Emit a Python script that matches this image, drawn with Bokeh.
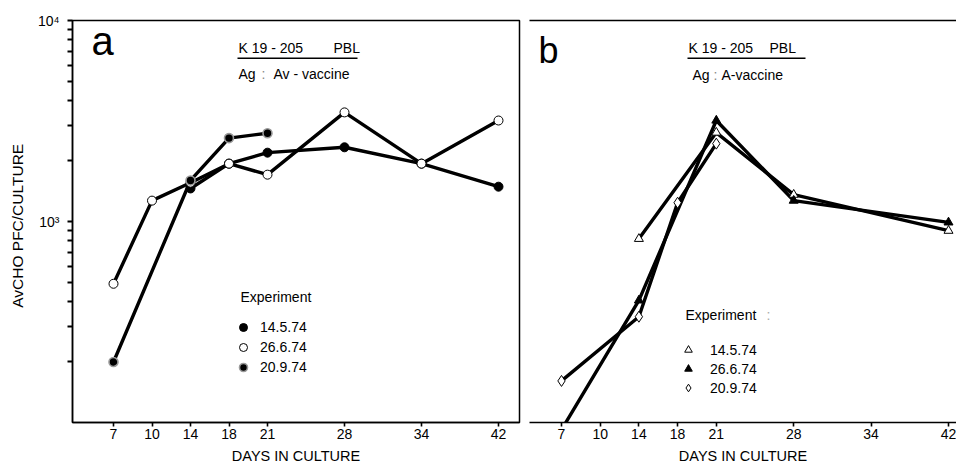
import numpy as np
from bokeh.plotting import figure
from bokeh.models import (Range1d, FixedTicker, LinearAxis, Label, Legend,
                          LegendItem, BoxAnnotation)
from bokeh.layouts import row
from bokeh.embed import file_html
from bokeh.resources import INLINE

# ---------------- data ----------------
day_ticks = [7, 10, 14, 18, 21, 28, 34, 42]
tick_slots = [0, 1, 2, 3, 4, 6, 8, 10]          # the original axis spaces 21-42 twice as wide
tick_labels = [str(d) for d in day_ticks]

experiments = ["14.5.74", "26.6.74", "20.9.74"]

# panel a : Ag  Av-vaccine
a_days_145 = [14, 18, 21, 28, 34, 42]
a_pfc_145 = [1460, 1940, 2200, 2340, 1940, 1490]
a_days_266 = [7, 10, 14, 18, 21, 28, 34, 42]
a_pfc_266 = [490, 1270, 1560, 1940, 1710, 3490, 1940, 3180]
a_days_209 = [7, 14, 18, 21]
a_pfc_209 = [200, 1600, 2600, 2750]

# panel b : Ag  A-vaccine
b_days_145 = [14, 21, 28, 42]
b_pfc_145 = [820, 2770, 1360, 900]
b_days_266 = [7, 14, 21, 28, 42]
b_pfc_266 = [92, 405, 3180, 1270, 990]
b_days_209 = [7, 14, 18, 21]
b_pfc_209 = [161, 336, 1240, 2440]

FONT = "Liberation Sans"


def slot(days):
    return np.interp(days, day_ticks, tick_slots)


# layout geometry (pixels)
TOP, BOTTOM = 20, 422
A_LEFT, A_RIGHT, A_X7, A_UNIT = 72, 519, 113, 38.5
B_LEFT, B_RIGHT, B_X7, B_UNIT = 529, 956, 561, 38.7


def ax(px):
    return (px - A_X7) / A_UNIT


def bx(px):
    return (px - B_X7) / B_UNIT


def yv(py):
    return 1000 * 10 ** ((221 - py) / 201.0)


def make_fig(left, right, x7, unit, with_yaxis):
    x0 = (left - x7) / unit
    x1 = (right - x7) / unit
    kw = dict(
        frame_width=right - left, frame_height=BOTTOM - TOP,
        x_range=Range1d(x0, x1), y_range=Range1d(100, 10000),
        y_axis_type="log", output_backend="svg", toolbar_location=None,
        min_border_top=TOP, min_border_bottom=41,
        background_fill_color="white", border_fill_color="white",
    )
    if with_yaxis:
        kw.update(min_border_left=left, min_border_right=5)
    else:
        kw.update(min_border_left=5, min_border_right=0, y_axis_location=None)
    p = figure(**kw)
    p.grid.grid_line_color = None
    xa = p.xaxis[0]
    xa.ticker = FixedTicker(ticks=tick_slots)
    xa.major_label_overrides = {s: lab for s, lab in zip(tick_slots, tick_labels)}
    xa.minor_tick_line_color = None
    xa.major_tick_out = 4
    xa.major_tick_in = 0
    xa.major_tick_line_width = 1.6
    xa.major_tick_line_color = "black"
    xa.axis_line_width = 1.5
    xa.axis_line_color = "black"
    xa.major_label_text_font = FONT
    xa.major_label_text_font_size = "14px"
    xa.major_label_text_color = "black"
    xa.major_label_standoff = 2
    xa.axis_label = "DAYS IN CULTURE"
    xa.axis_label_text_font = FONT
    xa.axis_label_text_font_size = "14.5px"
    xa.axis_label_text_font_style = "normal"
    xa.axis_label_text_color = "black"
    xa.axis_label_standoff = 6
    if with_yaxis:
        ya = p.yaxis[0]
        ya.ticker = FixedTicker(
            ticks=[1000, 10000],
            minor_ticks=[m * 10 ** e for e in (2, 3) for m in range(2, 10)])
        ya.major_label_overrides = {1000: "10\u00b3", 10000: "10\u2074"}
        ya.major_tick_out = 5
        ya.major_tick_in = 0
        ya.minor_tick_out = 5
        ya.minor_tick_in = 0
        ya.major_tick_line_width = 1.8
        ya.minor_tick_line_width = 1.8
        ya.major_tick_line_color = "black"
        ya.minor_tick_line_color = "black"
        ya.axis_line_width = 1.5
        ya.axis_line_color = "black"
        ya.major_label_text_font = FONT
        ya.major_label_text_font_size = "14px"
        ya.major_label_text_color = "black"
        ya.major_label_standoff = 8
        ya.axis_label = "AvCHO   PFC/CULTURE"
        ya.axis_label_text_font = FONT
        ya.axis_label_text_font_size = "15.5px"
        ya.axis_label_text_font_style = "normal"
        ya.axis_label_text_color = "black"
        ya.axis_label_standoff = 9
        p.outline_line_color = "black"
        p.outline_line_width = 1.5
    else:
        p.outline_line_color = None
        top = LinearAxis(ticker=FixedTicker(ticks=[]), axis_line_color="black",
                         axis_line_width=1.5, major_tick_line_color=None,
                         minor_tick_line_color=None,
                         major_label_text_font_size="0px")
        p.add_layout(top, "above")
    return p


def add_text(p, x, py, text, size=14, color="black"):
    # py is the wanted baseline in page pixels; Bokeh's box sits ~0.37 em lower
    p.add_layout(Label(x=x, y=yv(py - 0.37 * size), text=text, text_font=FONT,
                       text_font_size=f"{size}px", text_color=color,
                       text_baseline="alphabetic", text_align="left"))


def add_underline(p, x0, x1, y0, y1):
    p.add_layout(BoxAnnotation(left=x0, right=x1, top=y0, bottom=y1,
                               fill_color="black", fill_alpha=1.0,
                               line_color=None))


LW = 3.4

# ---------------- panel a ----------------
pa = make_fig(A_LEFT, A_RIGHT, A_X7, A_UNIT, True)
for d, v in [(a_days_145, a_pfc_145), (a_days_266, a_pfc_266), (a_days_209, a_pfc_209)]:
    pa.line(slot(d), v, line_color="black", line_width=LW, line_join="round",
            line_cap="round")
ra1 = pa.scatter(slot(a_days_145), a_pfc_145, marker="circle", size=9,
                 fill_color="black", line_color="black", line_width=1)
ra2 = pa.scatter(slot(a_days_266), a_pfc_266, marker="circle", size=9,
                 fill_color="white", line_color="black", line_width=1)
ra3 = pa.scatter(slot(a_days_209), a_pfc_209, marker="circle", size=9,
                 fill_color="black", line_color="#9a9a9a", line_width=1.6)

add_text(pa, ax(91), 55, "a", 40)
add_text(pa, ax(238), 53, "K 19 - 205")
add_text(pa, ax(333), 53, "PBL")
add_underline(pa, ax(237), ax(357), yv(57), yv(58.6))
add_text(pa, ax(238), 79, "Ag")
add_text(pa, ax(261), 79, ":", color="#888888")
add_text(pa, ax(273), 79, "Av - vaccine")
add_text(pa, ax(240), 302, "Experiment")

leg_a = Legend(items=[LegendItem(label=experiments[0], renderers=[ra1]),
                      LegendItem(label=experiments[1], renderers=[ra2]),
                      LegendItem(label=experiments[2], renderers=[ra3])],
               location=(233 - A_LEFT, BOTTOM - 377), orientation="vertical",
               glyph_width=20, glyph_height=20, label_height=20, spacing=0,
               padding=0, margin=0, label_standoff=7,
               label_text_font=FONT, label_text_font_size="14px",
               label_text_color="black", label_text_baseline="middle",
               background_fill_alpha=0, border_line_color=None)
pa.add_layout(leg_a, "center")

# ---------------- panel b ----------------
pb = make_fig(B_LEFT, B_RIGHT, B_X7, B_UNIT, False)
for d, v in [(b_days_145, b_pfc_145), (b_days_266, b_pfc_266), (b_days_209, b_pfc_209)]:
    pb.line(slot(d), v, line_color="black", line_width=LW, line_join="round",
            line_cap="round")
rb1 = pb.scatter(slot(b_days_145), b_pfc_145, marker="triangle", size=9,
                 fill_color="white", line_color="black", line_width=1)
rb2 = pb.scatter(slot(b_days_266), b_pfc_266, marker="triangle", size=9,
                 fill_color="black", line_color="black", line_width=1)
rb3 = pb.scatter(slot(b_days_209), b_pfc_209, marker="diamond", size=11,
                 fill_color="white", line_color="black", line_width=1)

add_text(pb, bx(538), 63, "b", 36)
add_text(pb, bx(688), 53, "K 19 - 205")
add_text(pb, bx(769), 53, "PBL")
add_underline(pb, bx(687), bx(805), yv(57), yv(58.6))
add_text(pb, bx(692), 80, "Ag")
add_text(pb, bx(713), 80, ":", color="#888888")
add_text(pb, bx(721), 80, "A-vaccine")
add_text(pb, bx(685), 320, "Experiment")
add_text(pb, bx(766), 320, ":", color="#aaaaaa")

leg_b = Legend(items=[LegendItem(label=experiments[0], renderers=[rb1]),
                      LegendItem(label=experiments[1], renderers=[rb2]),
                      LegendItem(label=experiments[2], renderers=[rb3])],
               location=(678 - B_LEFT, BOTTOM - 397), orientation="vertical",
               glyph_width=20, glyph_height=19, label_height=19, spacing=0,
               padding=0, margin=0, label_standoff=12,
               label_text_font=FONT, label_text_font_size="14px",
               label_text_color="black", label_text_baseline="middle",
               background_fill_alpha=0, border_line_color=None)
pb.add_layout(leg_b, "center")

layout = row(pa, pb)
open("out.html", "w").write(file_html(layout, INLINE))
